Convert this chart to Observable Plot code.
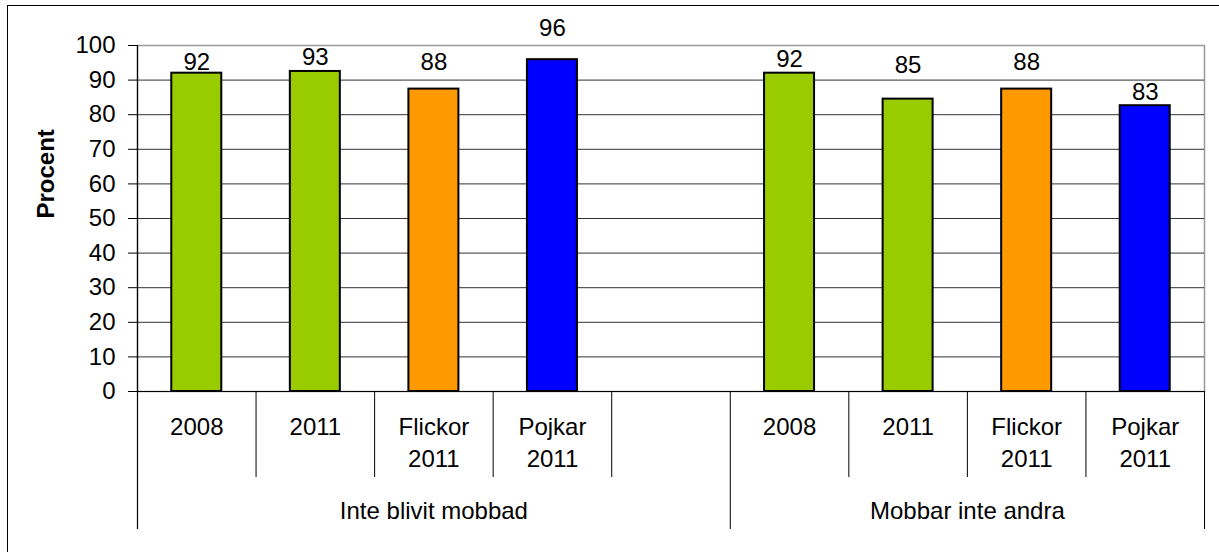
<!DOCTYPE html>
<html>
<head>
<meta charset="utf-8">
<script src="https://cdn.jsdelivr.net/npm/d3@7"></script>
<script src="https://cdn.jsdelivr.net/npm/@observablehq/plot@0.6"></script>
<style>
  html, body { margin: 0; padding: 0; background: #fff; overflow: hidden; }
  #wrap { position: relative; width: 1219px; height: 552px; overflow: hidden; }
  #border { position: absolute; left: 7px; top: 5px; width: 3000px; height: 3000px;
            border-left: 1px solid #000; border-top: 1px solid #000; pointer-events: none; }
  #chart svg { display: block; }
</style>
</head>
<body>
<div id="wrap"><div id="chart"></div><div id="border"></div></div>
<script>
// ---- data ----
const groups = ["Inte blivit mobbad", "Mobbar inte andra"];
const categories = ["2008", "2011", "Flickor\n2011", "Pojkar\n2011"];
const series = ["Totalt", "Totalt", "Flickor", "Pojkar"];
const valuesGroup1 = [92, 92.5, 87.4, 95.9];
const valuesGroup2 = [92, 84.5, 87.4, 82.6];
const labelsGroup1 = ["92", "93", "88", "96"];
const labelsGroup2 = ["92", "85", "88", "83"];
const yTicks = [0, 10, 20, 30, 40, 50, 60, 70, 80, 90, 100];
const yTitle = "Procent";

// ---- style ----
const W = 1219, H = 552;
const mL = 137, mR = 15, mT = 45, mB = 161;
const FONT = "'Liberation Sans', Arial, sans-serif";
const FS = 24;
const seriesColors = ["#99CC00", "#FF9900", "#0000FF"];
const labelLift = [3, 6, 19, 24, 6, 26, 19, 6]; // manual label nudges (px) as in the original

// ---- build slots ----
const slots = [];
const rows = [];
groups.forEach((g, gi) => {
  const vals = gi === 0 ? valuesGroup1 : valuesGroup2;
  const labs = gi === 0 ? labelsGroup1 : labelsGroup2;
  categories.forEach((c, ci) => {
    const id = `${gi}-${ci}`;
    slots.push({id, group: gi, cat: c, first: ci === 0});
    rows.push({slot: id, value: vals[ci], label: labs[ci], series: series[ci]});
  });
  if (gi === 0) slots.push({id: "gap", group: 0, cat: "", first: false});
});
const slotIds = slots.map(s => s.id);
const step = (W - mL - mR) / slotIds.length;
const inset = (step - 50) / 2;

const shortSeps = slots.filter((s, i) => i > 0 && !s.first);
const longSeps = slots.filter((s, i) => i > 0 && s.first);
const lastSlot = slots[slots.length - 1];

// group label positions: center of group's span
const groupMarks = groups.map((g, gi) => {
  const idx = slots.map((s, i) => s.group === gi ? i : -1).filter(i => i >= 0);
  const mid = (idx[0] + idx[idx.length - 1]) / 2;
  const base = Math.floor(mid);
  return Plot.text([g], {
    x: () => slotIds[base], frameAnchor: "bottom", dy: 127, dx: (mid - base) * step,
    lineAnchor: "bottom", fontSize: FS, fontFamily: FONT, fill: "#000"
  });
});

const valueLabelMarks = rows.map((r, i) => Plot.text([r], {
  x: "slot", y: "value", text: "label", dy: -labelLift[i], lineAnchor: "bottom",
  fontSize: FS, fontFamily: FONT, fill: "#000"
}));

const chart = Plot.plot({
  width: W, height: H,
  marginLeft: mL, marginRight: mR, marginTop: mT, marginBottom: mB,
  style: {fontFamily: FONT, fontSize: FS + "px", background: "transparent", overflow: "visible"},
  x: {type: "band", domain: slotIds, padding: 0, round: false, axis: null},
  y: {domain: [0, 100], axis: null},
  color: {domain: ["Totalt", "Flickor", "Pojkar"], range: seriesColors},
  marks: [
    Plot.frame({stroke: "#999", strokeWidth: 1.5}),
    Plot.ruleY(yTicks.filter(t => t > 0 && t < 100), {stroke: "#333", strokeWidth: 1}),
    Plot.barY(rows, {x: "slot", y: "value", fill: "series", stroke: "#000", strokeWidth: 2,
      insetLeft: inset, insetRight: inset}),
    Plot.ruleY([0], {stroke: "#000", strokeWidth: 1.2}),
    // y axis line (extends down as group boundary)
    Plot.ruleX([slots[0]], {x: "id", dx: -step / 2, stroke: "#000", strokeWidth: 1.2, insetBottom: -138}),
    // category separators below axis
    Plot.ruleX(shortSeps, {x: "id", y1: 0, y2: 0, dx: -step / 2, stroke: "#000", strokeWidth: 1, insetBottom: -86}),
    Plot.ruleX(longSeps, {x: "id", y1: 0, y2: 0, dx: -step / 2, stroke: "#000", strokeWidth: 1, insetBottom: -138}),
    Plot.ruleX([lastSlot], {x: "id", y1: 0, y2: 0, dx: step / 2, stroke: "#000", strokeWidth: 1, insetBottom: -138}),
    Plot.axisY({ticks: yTicks, tickSize: 9, tickPadding: 13, fontSize: FS, fontFamily: FONT,
      stroke: "#000", color: "#000", label: null, tickFormat: d => String(d)}),
    // category labels
    Plot.text(slots.filter(s => s.cat), {x: "id", text: "cat", frameAnchor: "bottom", dy: 21.5,
      lineAnchor: "top", lineHeight: 1.32, fontSize: FS, fontFamily: FONT, fill: "#000"}),
    ...groupMarks,
    ...valueLabelMarks,
    Plot.text([yTitle], {frameAnchor: "left", rotate: -90, dx: -91, fontSize: FS,
      fontWeight: "bold", fontFamily: FONT, fill: "#000"})
  ]
});
document.getElementById("chart").appendChild(chart);
</script>
</body>
</html>
